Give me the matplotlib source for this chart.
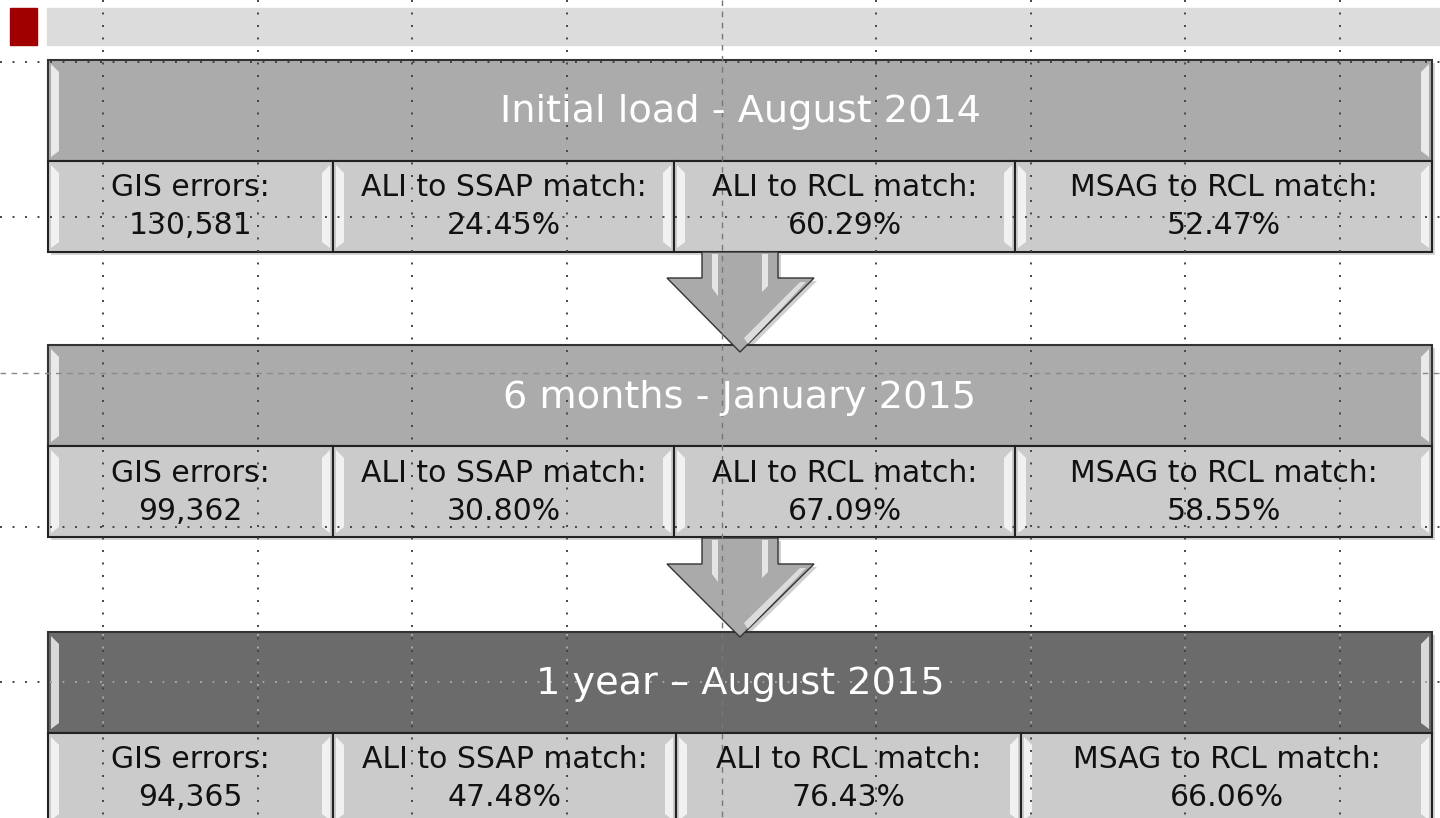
import numpy as np
import matplotlib
matplotlib.use("Agg")
import matplotlib.pyplot as plt
from matplotlib.patches import Rectangle, Polygon

plt.rcParams['font.family'] = ['DejaVu Sans']
plt.rcParams['lines.scale_dashes'] = False

# data
stages = ["Initial load - August 2014", "6 months - January 2015", "1 year \u2013 August 2015"]
metric_names = ["GIS errors:", "ALI to SSAP match:", "ALI to RCL match:", "MSAG to RCL match:"]
gis_errors = [130581, 99362, 94365]
ali_ssap = [24.45, 30.80, 47.48]
ali_rcl = [60.29, 67.09, 76.43]
msag_rcl = [52.47, 58.55, 66.06]

# layout (pixels, y going down)
band_tops = [60, 345, 632]
header_h = 101
cell_h = 91
left, right = 48, 1432
dividers = [[333, 674, 1015], [333, 674, 1015], [333, 676, 1021]]
header_colors = ['#ABABAB', '#ABABAB', '#6B6B6B']
cell_color = '#CBCBCB'
grid_x = [103, 257.5, 412, 566.5, 876, 1030.5, 1185, 1339.5]
grid_y = [62, 217, 527, 682]
center_x, center_y = 722, 373

fig = plt.figure(figsize=(14.4, 8.18), dpi=100)
ax = fig.add_axes([0, 0, 1, 1])
ax.set_xlim(0, 1440)
ax.set_ylim(818, 0)
ax.axis('off')

# title bar
ax.add_patch(Rectangle((10, 8), 27, 37, color='#A00000', zorder=1))
ax.add_patch(Rectangle((47, 8), 1393, 37, color='#DCDCDC', zorder=1))


def bevel(x0, x1, y0, y1, z):
    # white highlight strips at both ends of a box
    ax.add_patch(Polygon([[x0 + 3, y0 + 4], [x0 + 11, y0 + 12], [x0 + 11, y1 - 10],
                          [x0 + 3, y1 - 4]], closed=True, color='white', alpha=0.75,
                         lw=0, zorder=z))
    ax.add_patch(Polygon([[x1 - 3, y0 + 4], [x1 - 11, y0 + 12], [x1 - 11, y1 - 10],
                          [x1 - 3, y1 - 4]], closed=True, color='white', alpha=0.75,
                         lw=0, zorder=z))


def down_arrow(top, tip):
    shoulder = top + 26
    pts = [[702, top], [778, top], [778, shoulder], [814, shoulder], [740, tip],
           [667, shoulder], [702, shoulder]]
    shadow = [[x + 3, y + 3] for x, y in pts]
    ax.add_patch(Polygon(shadow, closed=True, color='#777777', alpha=0.35, lw=0, zorder=2))
    ax.add_patch(Polygon(pts, closed=True, facecolor='#AAAAAA', edgecolor='#333333',
                         lw=1.0, zorder=3))
    ax.add_patch(Polygon([[712, top + 2], [718, top + 2], [718, shoulder + 18],
                          [712, shoulder + 10]], closed=True, color='white', alpha=0.7,
                         lw=0, zorder=4))
    ax.add_patch(Polygon([[762, top + 2], [768, top + 2], [768, shoulder + 8],
                          [762, shoulder + 14]], closed=True, color='white', alpha=0.7,
                         lw=0, zorder=4))
    ax.add_patch(Polygon([[800, shoulder + 4], [806, shoulder + 4], [748, tip - 8],
                          [744, tip - 14]], closed=True, color='white', alpha=0.6,
                         lw=0, zorder=4))


for i, stage in enumerate(stages):
    top = band_tops[i]
    mid = top + header_h
    bot = mid + cell_h
    # shadow
    ax.add_patch(Rectangle((left + 3, top + 3), right - left, bot - top, color='#888888',
                           alpha=0.35, lw=0, zorder=2))
    ax.add_patch(Rectangle((left, top), right - left, header_h, facecolor=header_colors[i],
                           edgecolor='#333333', lw=1.5, zorder=3))
    bevel(left, right, top, mid, 4)
    ax.text((left + right) / 2, top + header_h / 2 + 2, stage, color='white', fontsize=27.5,
            ha='center', va='center', zorder=6)

    edges = [left] + dividers[i] + [right]
    values = [f"{gis_errors[i]:,}", f"{ali_ssap[i]:.2f}%", f"{ali_rcl[i]:.2f}%",
              f"{msag_rcl[i]:.2f}%"]
    for j in range(4):
        x0, x1 = edges[j], edges[j + 1]
        ax.add_patch(Rectangle((x0, mid), x1 - x0, cell_h, facecolor=cell_color,
                               edgecolor='#222222', lw=1.5, zorder=3))
        bevel(x0, x1, mid, bot, 4)
        cx = (x0 + x1) / 2
        ax.text(cx, mid + 27, metric_names[j], color='#111111', fontsize=21.5,
                ha='center', va='center', zorder=6)
        ax.text(cx, mid + 65, values[j], color='#111111', fontsize=21.5,
                ha='center', va='center', zorder=6)

down_arrow(252, 352)
down_arrow(538, 637)

# guide lines (drawn lighter where they cross the dark header)
dot = (0, (1.4, 7.6))
dark_top = band_tops[2]
dark_bot = dark_top + header_h
for x in grid_x:
    ax.plot([x, x], [0, 818], color='#444444', lw=1.4, ls=dot, zorder=5)
    ax.plot([x, x], [dark_top + 2, dark_bot - 2], color='#A8A8A8', lw=1.4, ls=dot,
            zorder=5.5)
for y in grid_y:
    ax.plot([0, 1440], [y, y], color='#444444', lw=1.4, ls=dot, zorder=5)
    if dark_top < y < dark_bot:
        ax.plot([left + 2, right - 2], [y, y], color='#A8A8A8', lw=1.4, ls=dot, zorder=5.5)
ax.plot([center_x, center_x], [0, 818], color='#777777', lw=1.0, ls=(0, (4, 4)), zorder=5)
ax.plot([0, 1440], [center_y, center_y], color='#888888', lw=1.0, ls=(0, (4, 4)), zorder=5)

fig.savefig('out.png', dpi=100)
